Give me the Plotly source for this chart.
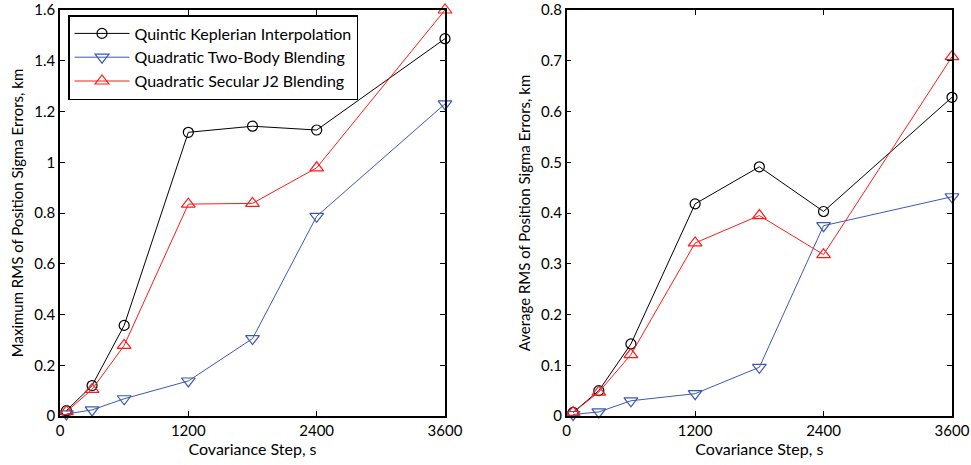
import plotly.graph_objects as go

steps = [60, 300, 600, 1200, 1800, 2400, 3600]

max_quintic = [0.021, 0.12, 0.357, 1.118, 1.142, 1.127, 1.487]
max_twobody = [0.008, 0.024, 0.068, 0.138, 0.305, 0.787, 1.23]
max_j2 = [0.017, 0.105, 0.278, 0.835, 0.838, 0.978, 1.6]

avg_quintic = [0.007, 0.05, 0.142, 0.418, 0.491, 0.403, 0.628]
avg_twobody = [0.003, 0.008, 0.03, 0.044, 0.096, 0.375, 0.432]
avg_j2 = [0.007, 0.047, 0.121, 0.341, 0.395, 0.318, 0.708]

x_ticks = [0, 1200, 2400, 3600]
max_ticks = [0, 0.2, 0.4, 0.6, 0.8, 1.0, 1.2, 1.4, 1.6]
max_labels = ["0", "0.2", "0.4", "0.6", "0.8", "1", "1.2", "1.4", "1.6"]
avg_ticks = [0, 0.1, 0.2, 0.3, 0.4, 0.5, 0.6, 0.7, 0.8]
avg_labels = ["0", "0.1", "0.2", "0.3", "0.4", "0.5", "0.6", "0.7", "0.8"]

names = ["Quintic Keplerian Interpolation", "Quadratic Two-Body Blending", "Quadratic Secular J2 Blending"]
colors = ["#000000", "#3c5ab4", "#ff1a1a"]
symbols = ["circle-open", "triangle-down-open", "triangle-up-open"]
sizes = [10, 12, 12]

FONT = "Lato, sans-serif"

fig = go.Figure()
left = [max_quintic, max_twobody, max_j2]
right = [avg_quintic, avg_twobody, avg_j2]
for i in range(3):
    fig.add_trace(go.Scatter(x=steps, y=left[i], mode="lines+markers", name=names[i],
                             line=dict(color=colors[i], width=1),
                             marker=dict(symbol=symbols[i], size=sizes[i], color=colors[i], line=dict(width=1.2)),
                             cliponaxis=False, xaxis="x", yaxis="y", showlegend=True))
for i in range(3):
    fig.add_trace(go.Scatter(x=steps, y=right[i], mode="lines+markers", name=names[i],
                             line=dict(color=colors[i], width=1),
                             marker=dict(symbol=symbols[i], size=sizes[i], color=colors[i], line=dict(width=1.2)),
                             cliponaxis=False, xaxis="x2", yaxis="y2", showlegend=False))

W, H = 971, 465
T = 10
B = H - 416
PH = H - T - B
axcommon = dict(showgrid=False, zeroline=False, showline=True, linecolor="black", linewidth=1.5,
                mirror="allticks", ticks="inside", ticklen=5, tickcolor="black", automargin=False,
                ticklabeloverflow="allow",
                tickfont=dict(family=FONT, size=15, color="black"))

fig.update_layout(
    width=W, height=H,
    margin=dict(l=0, r=0, t=T, b=B, autoexpand=False),
    paper_bgcolor="white", plot_bgcolor="white",
    font=dict(family=FONT, color="black"),
    xaxis=dict(domain=[60 / W, 445 / W], range=[0, 3600], tickvals=x_ticks, anchor="y",
               title=dict(text="Covariance Step, s", font=dict(family=FONT, size=16), standoff=4), **axcommon),
    yaxis=dict(domain=[0, 1], range=[0, 1.6], tickvals=max_ticks, ticktext=max_labels, anchor="x",
               title=dict(text="Maximum RMS of Position Sigma Errors, km", font=dict(family=FONT, size=15), standoff=7), **axcommon),
    xaxis2=dict(domain=[566.7 / W, 952 / W], range=[0, 3600], tickvals=x_ticks, anchor="y2",
                title=dict(text="Covariance Step, s", font=dict(family=FONT, size=16), standoff=4), **axcommon),
    yaxis2=dict(domain=[0, 1], range=[0, 0.8], tickvals=avg_ticks, ticktext=avg_labels, anchor="x2",
                title=dict(text="Average RMS of Position Sigma Errors, km", font=dict(family=FONT, size=15), standoff=7), **axcommon),
    legend=dict(x=68 / W, y=1 - 5 / PH, xanchor="left", yanchor="top", xref="paper", yref="paper",
                bgcolor="white", bordercolor="black", borderwidth=1.5,
                font=dict(family=FONT, size=16, color="black"), tracegroupgap=0, itemwidth=55),
    showlegend=True,
)

fig.write_html("out.html", config={"displayModeBar": False},
               post_script="document.body.style.margin='0px';document.body.style.overflow='hidden';")
